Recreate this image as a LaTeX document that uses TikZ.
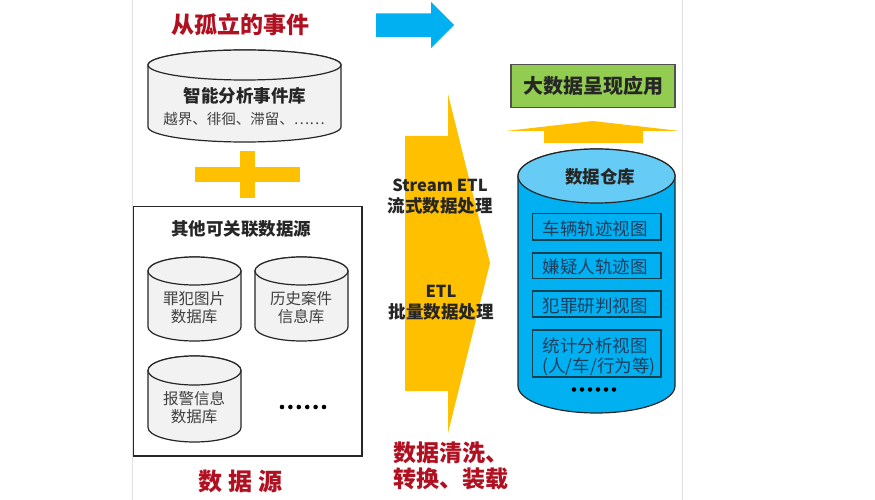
\documentclass[tikz,border=0pt]{standalone}
\usepackage{fontspec}
\setmainfont{Noto Sans CJK SC}
\definecolor{barY}{HTML}{FFC000}
\definecolor{blueA}{HTML}{00B0F0}
\definecolor{blueT}{HTML}{66CCF5}
\definecolor{redT}{HTML}{B01020}
\definecolor{greenB}{HTML}{92CC50}
\definecolor{grayF}{HTML}{F2F2F2}
\definecolor{lineK}{HTML}{262626}
\definecolor{viewT}{HTML}{1F3F5F}
\newcommand{\cyl}[7]{% x1,x2,ytop,ry,ybot(center of lower arc),fill,topfill
  \pgfmathsetmacro{\rx}{(#2-#1)/2}
  \pgfmathsetmacro{\cx}{(#1+#2)/2}
  \pgfmathsetmacro{\cy}{#3+#4}
  \path[cylline,fill=#6] (#1,\cy) -- (#1,#5) arc[start angle=180,end angle=360,x radius=\rx,y radius=-#4] -- (#2,\cy) arc[start angle=0,end angle=180,x radius=\rx,y radius=-#4] -- cycle;
  \path[cylline,fill=#7] (\cx,\cy) ellipse[x radius=\rx,y radius=#4];
}
\tikzset{
  cylline/.style={draw=lineK,line width=1.2pt},
  lab/.style={inner sep=0pt,font=\fontsize{15.5}{15.5}\selectfont,text=black!75},
  boldlab/.style={inner sep=0pt,font=\fontsize{17.5}{17.5}\selectfont\bfseries,text=black!85},
  redlab/.style={inner sep=0pt,font=\fontsize{23}{23}\selectfont\bfseries,text=redT},
  viewbox/.style={draw=lineK!60!blueA!70!black,line width=1.2pt,fill=blueA},
  viewlab/.style={inner sep=0pt,font=\fontsize{17.5}{17.5}\selectfont,text=viewT},
  dotmark/.style={circle,fill=black,inner sep=0pt,minimum size=4.6pt},
}
\begin{document}
\begin{tikzpicture}[x=1pt,y=-1pt]
\useasboundingbox (0,0) rectangle (875,500);
\fill[white] (0,0) rectangle (875,500);
\draw[black!12,line width=1pt] (132.5,0) -- (132.5,500) (682.5,0) -- (682.5,500);

% top left
\node[redlab] (title) at (240,25) {从孤立的事件};
\cyl{148}{341}{50}{15}{127}{grayF}{grayF}
\node[boldlab] (lib) at (245,96) {智能分析事件库};
\node[lab,font=\fontsize{14.5}{14.5}\selectfont] (libsub) at (244,119) {越界、徘徊、滞留、……};

% plus
\fill[barY] (195,167) rectangle (300,182);
\fill[barY] (240,151) rectangle (255,198);

% sources box
\draw[lineK,line width=1.2pt,fill=white] (133.5,206.5) rectangle (362,456);
\node[boldlab] (others) at (241,229) {其他可关联数据源};
\cyl{148}{241}{257}{14}{327}{grayF}{grayF}
\cyl{255}{348}{257}{14}{327}{grayF}{grayF}
\cyl{148}{241}{356}{14.5}{427.5}{grayF}{grayF}
\node[lab,align=center] (a1) at (194,308) {罪犯图片\\[2.5pt]数据库};
\node[lab,align=center] (a2) at (301,308) {历史案件\\[2.5pt]信息库};
\node[lab,align=center] (a3) at (194,408) {报警信息\\[2.5pt]数据库};
\foreach \x in {282,290.4,298.8,307.2,315.6,324}{\node[dotmark] at (\x,407) {};}
\node[redlab,font=\fontsize{24}{24}\selectfont\bfseries] (src) at (240,481) {数\hspace{6pt}据\hspace{6pt}源};

% blue arrow
\fill[blueA] (376,13.5) -- (431,13.5) -- (431,2) -- (454,25) -- (431,48) -- (431,37) -- (376,37) -- cycle;

% yellow arrow
\fill[barY] (405,136) -- (448,136) -- (448,94) -- (490,263) -- (448,433) -- (448,391) -- (405,391) -- cycle;
\node[boldlab,font=\fontsize{16.5}{16.5}\selectfont\bfseries] (s1) at (440,185) {Stream ETL};
\node[boldlab] (s2) at (440,206) {流式数据处理};
\node[boldlab,font=\fontsize{16.5}{16.5}\selectfont\bfseries] (s3) at (441,291) {ETL};
\node[boldlab] (s4) at (441,312) {批量数据处理};
\node[redlab,anchor=west] (c1) at (393,453) {数据清洗、};
\node[redlab,anchor=west] (c2) at (393,479) {转换、装载};

% right
\node[draw=lineK!80,line width=1.2pt,fill=greenB,minimum width=164pt,minimum height=43pt,inner sep=0pt,font=\fontsize{20}{20}\selectfont\bfseries,text=black!85] (app) at (593,86) {大数据呈现应用};
\fill[barY] (506,131) -- (593,121) -- (680,131) -- (643,131) -- (643,143) -- (544,143) -- (544,131) -- cycle;
\cyl{518}{675}{149}{27}{386}{blueA}{blueT}
\node[boldlab] (dw) at (600,177) {数据仓库};
\draw[viewbox] (532.5,213.5) rectangle (661,240);
\draw[viewbox] (532.5,253) rectangle (661,278.5);
\draw[viewbox] (532.5,291) rectangle (661,317);
\draw[viewbox] (532.5,330) rectangle (661,377);
\node[viewlab] (v1) at (595,229) {车辆轨迹视图};
\node[viewlab] (v2) at (595,267) {嫌疑人轨迹图};
\node[viewlab] (v3) at (595,306) {犯罪研判视图};
\node[viewlab] (v4) at (595,346) {统计分析视图};
\node[viewlab] (v5) at (599,367) {(人/车/行为等)};
\foreach \x in {574,582,590,598,606,614}{\node[dotmark] at (\x,389.5) {};}
\end{tikzpicture}
\end{document}
